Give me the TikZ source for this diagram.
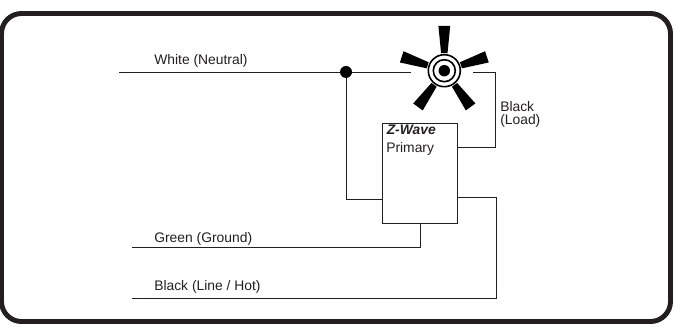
\documentclass[tikz,border=0pt]{standalone}
\usepackage{fontspec}
\setmainfont{Liberation Sans}
\definecolor{ink}{HTML}{231F20}
\tikzset{
  x=0.75pt,y=-0.75pt,
  wire/.style={draw=ink,line width=0.65pt,line join=miter},
  lbl/.style={inner sep=0pt,anchor=base west,text=ink,font=\fontsize{10.4pt}{10.6pt}\selectfont},
  ringline/.style={draw=black,line width=1.2pt,circle,minimum size=#1,inner sep=0pt},
}
\begin{document}
\begin{tikzpicture}
\useasboundingbox (0,0) rectangle (675,327);
\draw[draw=ink,line width=3.7pt,rounded corners=15pt] (1.5,13.5) rectangle (670.5,321.5);
% lamp
\coordinate (lamp) at (444.3,70.7);
\foreach \a in {90,162,234,306,18}{
  \begin{scope}[shift={(lamp)},rotate=\a]
    \fill[black] (17.5,-3.2) -- (44.8,-5.9) -- (44.8,5.9) -- (17.5,3.2) -- cycle;
  \end{scope}
}
\node[ringline=24pt] (ringa) at (lamp) {};
\node[ringline=16.5pt] (ringb) at (lamp) {};
\node[circle,fill=black,minimum size=8.6pt,inner sep=0pt] (lampdot) at (lamp) {};
% box
\node[draw=ink,line width=0.65pt,fill=white,minimum width=56.25pt,minimum height=75.2pt,inner sep=0pt,anchor=north west] (zbox) at (382,122.7) {};
\node[lbl] (zname) at (386.5,135) {\textbf{\textit{Z-Wave}}};
\node[lbl] (zrole) at (386,152.3) {Primary};
% junction
\node[circle,fill=black,minimum size=9pt,inner sep=0pt] (junc) at (346,72) {};
% free ends
\coordinate (wstart) at (119,72);
\coordinate (wend) at (411,72);
\coordinate (lstart) at (473,72);
\coordinate (gstart) at (132,247.7);
\coordinate (hstart) at (132,298);
\coordinate (bl) at (382,199);
\coordinate (bg) at (420,223);
\coordinate (bh) at (457,197.7);
\coordinate (bo) at (457,147.3);
% wires
\draw[wire] (wstart) -- (junc) -- (wend);
\draw[wire] (junc) -- (346,199) -- (bl);
\draw[wire] (lstart) -- (495,72) -- (495,147.3) -- (bo);
\draw[wire] (gstart) -- (420,247.7) -- (bg);
\draw[wire] (hstart) -- (496,298) -- (496,197.7) -- (bh);
% labels
\node[lbl] (lw) at (154,64.3) {White (Neutral)};
\node[lbl] (lg) at (154,242.7) {Green (Ground)};
\node[lbl] (lh) at (154,291) {Black (Line / Hot)};
\node[lbl] (ll1) at (500,112) {Black};
\node[lbl] (ll2) at (500,124.3) {(Load)};
\end{tikzpicture}
\end{document}
